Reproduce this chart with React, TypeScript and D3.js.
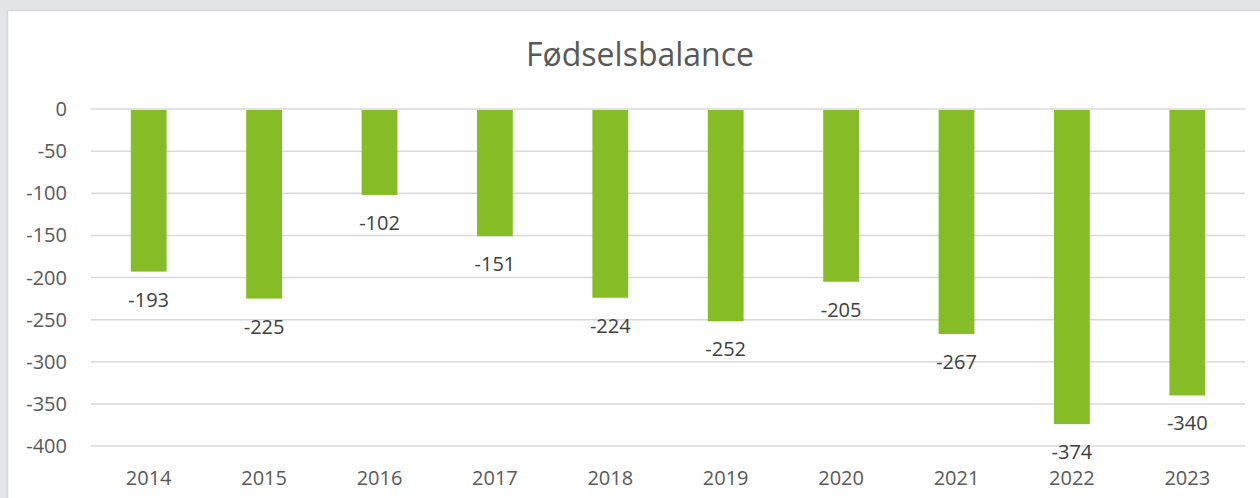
import React from "react";
import * as d3 from "d3";

const years = ["2014", "2015", "2016", "2017", "2018", "2019", "2020", "2021", "2022", "2023"];
const values = [-193, -225, -102, -151, -224, -252, -205, -267, -374, -340];
const yTicks = [0, -50, -100, -150, -200, -250, -300, -350, -400];
const title = "Fødselsbalance";

const W = 1260;
const H = 498;
const FONT = "'Open Sans', sans-serif";

export default function App() {
  const x = d3.scaleBand<string>().domain(years).range([91, 1245]).paddingInner(0.69).paddingOuter(0.345);
  const y = d3.scaleLinear().domain([-400, 0]).range([446, 109]);
  return (
    <svg width={W} height={H} style={{ position: "absolute", left: 0, top: 0 }}>
      <rect x={0} y={0} width={W} height={H} fill="#e4e5e7" />
      <rect x={7.5} y={10.5} width={W} height={H} fill="#ffffff" stroke="#d6d7d9" strokeWidth={1.5} />
      <text x={640} y={66} textAnchor="middle" fontFamily={FONT} fontSize={32} fill="#595959">{title}</text>
      {yTicks.map((t) => (
        <g key={t}>
          <line x1={91} x2={1245} y1={y(t)} y2={y(t)} stroke="#d9d9d9" strokeWidth={1.5} />
          <text x={67} y={y(t) + 7} textAnchor="end" fontFamily={FONT} fontSize={20} fill="#595959">{t}</text>
        </g>
      ))}
      {years.map((yr, i) => {
        const v = values[i];
        const bx = x(yr)!;
        const bw = x.bandwidth();
        const cx = bx + bw / 2;
        return (
          <g key={yr}>
            <rect x={bx} y={y(0) + 1} width={bw} height={y(v) - y(0) - 1} fill="#86bc25" />
            <text x={cx} y={y(v) + 35} textAnchor="middle" fontFamily={FONT} fontSize={20} fill="#404040">{v}</text>
            <text x={cx} y={485} textAnchor="middle" fontFamily={FONT} fontSize={20} fill="#595959">{yr}</text>
          </g>
        );
      })}
    </svg>
  );
}
